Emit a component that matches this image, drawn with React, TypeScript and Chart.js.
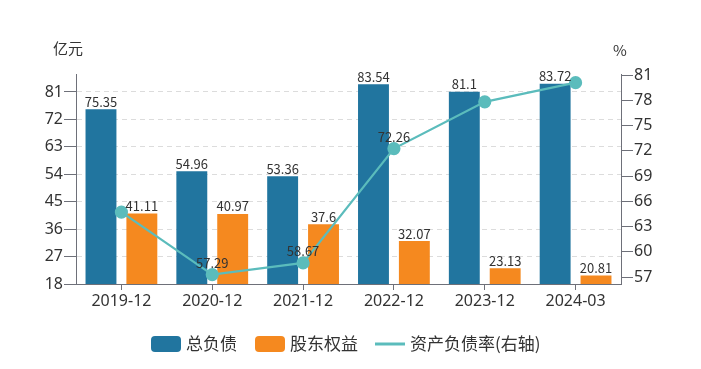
import React, { useEffect, useRef } from 'react';
import { Chart, registerables } from 'chart.js';

Chart.register(...registerables);

const categories = ['2019-12', '2020-12', '2021-12', '2022-12', '2023-12', '2024-03'];
const totalLiabilities = [75.35, 54.96, 53.36, 83.54, 81.1, 83.72];
const shareholderEquity = [41.11, 40.97, 37.6, 32.07, 23.13, 20.81];
const debtRatio = [64.7, 57.29, 58.67, 72.26, 77.81, 80.09];
const leftTicks = [18, 27, 36, 45, 54, 63, 72, 81];
const rightTicks = [57, 60, 63, 66, 69, 72, 75, 78, 81];
const lineLabelIndexes = [1, 2, 3];
const seriesNames = ['总负债', '股东权益', '资产负债率(右轴)'];

const FONT = "'Noto Sans CJK SC', 'Noto Sans', sans-serif";
const NUM_FONT = "'Noto Sans', 'Noto Sans CJK SC', sans-serif";
const BLUE = '#21759f';
const ORANGE = '#f5891f';
const TEAL = '#5bbcbc';
const TEXT = '#333333';
const AXIS = '#6e7079';

const overlayPlugin = {
  id: 'overlay',
  afterDatasetsDraw(chart: any) {
    const ctx = chart.ctx;
    ctx.save();
    ctx.font = `13px ${FONT}`;
    ctx.fillStyle = TEXT;
    ctx.textAlign = 'center';
    ctx.textBaseline = 'bottom';
    [0, 1].forEach((di) => {
      const meta = chart.getDatasetMeta(di);
      const vals = chart.data.datasets[di].data;
      meta.data.forEach((el: any, j: number) => {
        ctx.fillText(String(vals[j]), el.x, el.y - 1);
      });
    });
    const lm = chart.getDatasetMeta(2);
    const lv = chart.data.datasets[2].data;
    lineLabelIndexes.forEach((j) => {
      const el = lm.data[j];
      ctx.fillText(String(lv[j]), el.x, el.y - 5);
    });
    ctx.restore();
  },
  afterDraw(chart: any) {
    const ctx = chart.ctx;
    ctx.save();
    ctx.fillStyle = TEXT;
    ctx.font = `15px ${FONT}`;
    ctx.textBaseline = 'middle';
    ctx.textAlign = 'center';
    ctx.fillText('亿元', 68, 48);
    ctx.fillText('%', 620, 50);

    // legend
    ctx.font = `17px ${FONT}`;
    ctx.textAlign = 'left';
    const cy = 344;
    const items = [
      { type: 'box', color: BLUE, x: 151, text: seriesNames[0] },
      { type: 'box', color: ORANGE, x: 255, text: seriesNames[1] },
      { type: 'line', color: TEAL, x: 375, text: seriesNames[2] },
    ];
    items.forEach((it) => {
      if (it.type === 'box') {
        ctx.fillStyle = it.color;
        ctx.beginPath();
        (ctx as any).roundRect(it.x, cy - 8, 30, 16, 4);
        ctx.fill();
      } else {
        ctx.strokeStyle = it.color;
        ctx.lineWidth = 3;
        ctx.beginPath();
        ctx.moveTo(it.x, cy);
        ctx.lineTo(it.x + 30, cy);
        ctx.stroke();
      }
      ctx.fillStyle = TEXT;
      ctx.fillText(it.text, it.x + 35, cy);
    });
    ctx.restore();
  },
};

export default function App() {
  const canvasRef = useRef<HTMLCanvasElement | null>(null);

  useEffect(() => {
    const canvas = canvasRef.current;
    if (!canvas) return;
    const chart = new Chart(canvas, {
      type: 'bar',
      data: {
        labels: categories,
        datasets: [
          {
            type: 'bar',
            label: seriesNames[0],
            data: totalLiabilities,
            backgroundColor: BLUE,
            yAxisID: 'y',
            order: 1,
            categoryPercentage: 0.9,
            barPercentage: 0.756,
          },
          {
            type: 'bar',
            label: seriesNames[1],
            data: shareholderEquity,
            backgroundColor: ORANGE,
            yAxisID: 'y',
            order: 1,
            categoryPercentage: 0.9,
            barPercentage: 0.756,
          },
          {
            type: 'line',
            label: seriesNames[2],
            data: debtRatio,
            borderColor: TEAL,
            backgroundColor: TEAL,
            borderWidth: 2.2,
            pointRadius: 5.5,
            pointBackgroundColor: TEAL,
            pointBorderColor: TEAL,
            yAxisID: 'y1',
            order: 0,
            tension: 0,
          } as any,
        ],
      },
      options: {
        animation: false,
        responsive: false,
        maintainAspectRatio: false,
        layout: { padding: { left: 0, right: 0, top: 74, bottom: 0 } },
        plugins: {
          legend: { display: false },
          tooltip: { enabled: false },
        },
        scales: {
          x: {
            offset: true,
            grid: {
              offset: false,
              drawOnChartArea: false,
              drawTicks: true,
              tickLength: 6,
              tickColor: AXIS,
              tickWidth: 1,
            },
            border: { display: true, color: AXIS, width: 1 },
            ticks: { color: TEXT, font: { family: NUM_FONT, size: 16 }, padding: 2, maxRotation: 0 },
            afterFit(scale: any) {
              scale.height = 369 - 284;
            },
          },
          y: {
            position: 'left',
            min: 18,
            max: 86.9,
            afterBuildTicks(scale: any) {
              scale.ticks = leftTicks.map((v) => ({ value: v }));
            },
            grid: {
              color: '#dcdcdc',
              lineWidth: 1,
              drawOnChartArea: true,
              drawTicks: true,
              tickLength: 12,
              tickColor: AXIS,
            },
            border: { display: true, color: AXIS, width: 1, dash: [5, 4] },
            ticks: { color: TEXT, font: { family: NUM_FONT, size: 16 }, padding: 1 },
            afterFit(scale: any) {
              scale.width = 76;
            },
          },
          y1: {
            position: 'right',
            min: 56.17,
            max: 81.12,
            afterBuildTicks(scale: any) {
              scale.ticks = rightTicks.map((v) => ({ value: v }));
            },
            grid: {
              drawOnChartArea: false,
              drawTicks: true,
              tickLength: 12,
              tickColor: AXIS,
            },
            border: { display: true, color: AXIS, width: 1 },
            ticks: { color: TEXT, font: { family: NUM_FONT, size: 16 }, padding: 1 },
            afterFit(scale: any) {
              scale.width = 701 - 621;
            },
          },
        },
      },
      plugins: [overlayPlugin],
    });
    return () => chart.destroy();
  }, []);

  return (
    <div style={{ position: 'fixed', left: 0, top: 0, width: 701, height: 369, background: '#fff' }}>
      <canvas ref={canvasRef} width={701} height={369} style={{ width: 701, height: 369, display: 'block' }} />
    </div>
  );
}
